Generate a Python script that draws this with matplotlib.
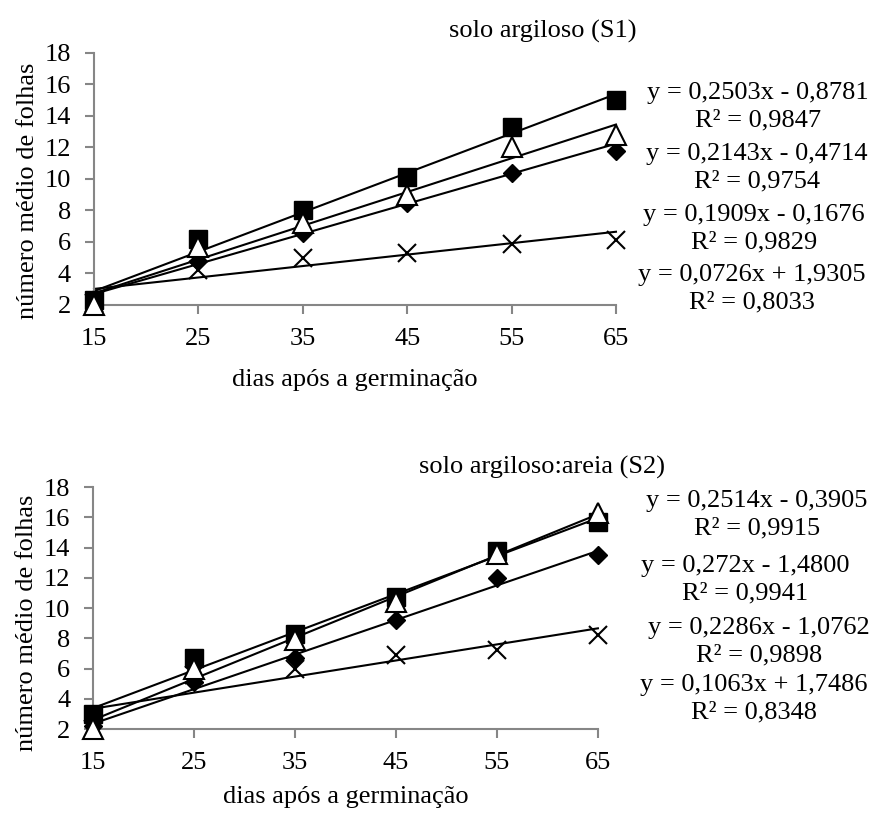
import numpy as np
import matplotlib
matplotlib.use("Agg")
import matplotlib.pyplot as plt

plt.rcParams['font.family'] = ['Liberation Serif', 'DejaVu Serif']

dias = [15, 25, 35, 45, 55, 65]
yticks = [2, 4, 6, 8, 10, 12, 14, 16, 18]

# solo argiloso (S1)
s1_quad = [2.3, 6.2, 8.0, 10.1, 13.3, 15.0]
s1_tri = [2.0, 5.7, 7.2, 9.0, 12.0, 12.8]
s1_diam = [2.3, 4.8, 6.6, 8.5, 10.4, 11.8]
s1_x = [2.1, 4.2, 5.0, 5.3, 5.9, 6.1]
s1_a = [0.2503, 0.2143, 0.1909, 0.0726]
s1_b = [-0.8781, -0.4714, -0.1676, 1.9305]
s1_eq = ["y = 0,2503x - 0,8781\nR² = 0,9847",
         "y = 0,2143x - 0,4714\nR² = 0,9754",
         "y = 0,1909x - 0,1676\nR² = 0,9829",
         "y = 0,0726x + 1,9305\nR² = 0,8033"]

# solo argiloso:areia (S2)
s2_quad = [3.0, 6.7, 8.3, 10.7, 13.8, 15.7]
s2_tri = [2.0, 6.0, 7.9, 10.4, 13.6, 16.3]
s2_diam = [2.2, 5.1, 6.7, 9.2, 12.0, 13.5]
s2_x = [2.0, 5.6, 6.0, 6.9, 7.2, 8.2]
s2_a = [0.2514, 0.272, 0.2286, 0.1063]
s2_b = [-0.3905, -1.4800, -1.0762, 1.7486]
s2_eq = ["y = 0,2514x - 0,3905\nR² = 0,9915",
         "y = 0,272x - 1,4800\nR² = 0,9941",
         "y = 0,2286x - 1,0762\nR² = 0,9898",
         "y = 0,1063x + 1,7486\nR² = 0,8348"]

fs = 19
grey = "#868686"

fig = plt.figure(figsize=(8.72, 8.15), dpi=100)
ax1 = fig.add_axes([0.1078, 0.6258, 0.5986, 0.3092])
ax2 = fig.add_axes([0.1067, 0.1055, 0.579, 0.2969])


def painel(ax, series, a, b, titulo, tx, ty, ylab_y, xpad):
    xs = np.array([dias[0], dias[-1]])
    for ai, bi in zip(a, b):
        ax.plot(xs, ai * xs + bi, color="black", lw=1.5, clip_on=False, zorder=2)
    quad, tri, diam, xx = series
    ax.plot(dias, xx, ls="none", marker="x", ms=13, mew=1.5, color="black",
            clip_on=False, zorder=3)
    ax.plot(dias, diam, ls="none", marker="D", ms=9, color="black",
            clip_on=False, zorder=3)
    ax.plot(dias, tri, ls="none", marker="^", ms=14, mfc="white", mec="black",
            mew=1.5, clip_on=False, zorder=4)
    ax.plot(dias, quad, ls="none", marker="s", ms=13.5, color="black",
            clip_on=False, zorder=3)
    ax.set_xlim(15, 65)
    ax.set_ylim(2, 18)
    ax.set_xticks(dias)
    ax.set_yticks(yticks)
    ax.tick_params(labelsize=fs, length=6.5, width=1.5, color=grey, pad=10)
    for s in ["top", "right"]:
        ax.spines[s].set_visible(False)
    for s in ["left", "bottom"]:
        ax.spines[s].set_color(grey)
        ax.spines[s].set_linewidth(1.5)
    ax.set_xlabel("dias após a germinação", fontsize=fs, labelpad=xpad)
    ax.set_ylabel("número médio de folhas", fontsize=fs, labelpad=4, y=ylab_y)
    fig.text(tx, ty, titulo, fontsize=fs, ha="center", va="center")


painel(ax1, (s1_quad, s1_tri, s1_diam, s1_x), s1_a, s1_b,
       "solo argiloso (S1)", 543 / 872, 1 - 31 / 815, 0.452, 14)
painel(ax2, (s2_quad, s2_tri, s2_diam, s2_x), s2_a, s2_b,
       "solo argiloso:areia (S2)", 542 / 872, 1 - 467 / 815, 0.438, 9)

# equações das linhas de tendência
pos1 = [(758, 107), (757, 168), (754, 229), (752, 289)]
pos2 = [(757, 515), (745, 580), (759, 642), (754, 699)]
for txt, (px, py) in zip(s1_eq, pos1):
    fig.text(px / 872, 1 - py / 815, txt, fontsize=fs, ha="center",
             va="center", linespacing=1.3)
for txt, (px, py) in zip(s2_eq, pos2):
    fig.text(px / 872, 1 - py / 815, txt, fontsize=fs, ha="center",
             va="center", linespacing=1.3)

fig.savefig("out.png", dpi=100)
